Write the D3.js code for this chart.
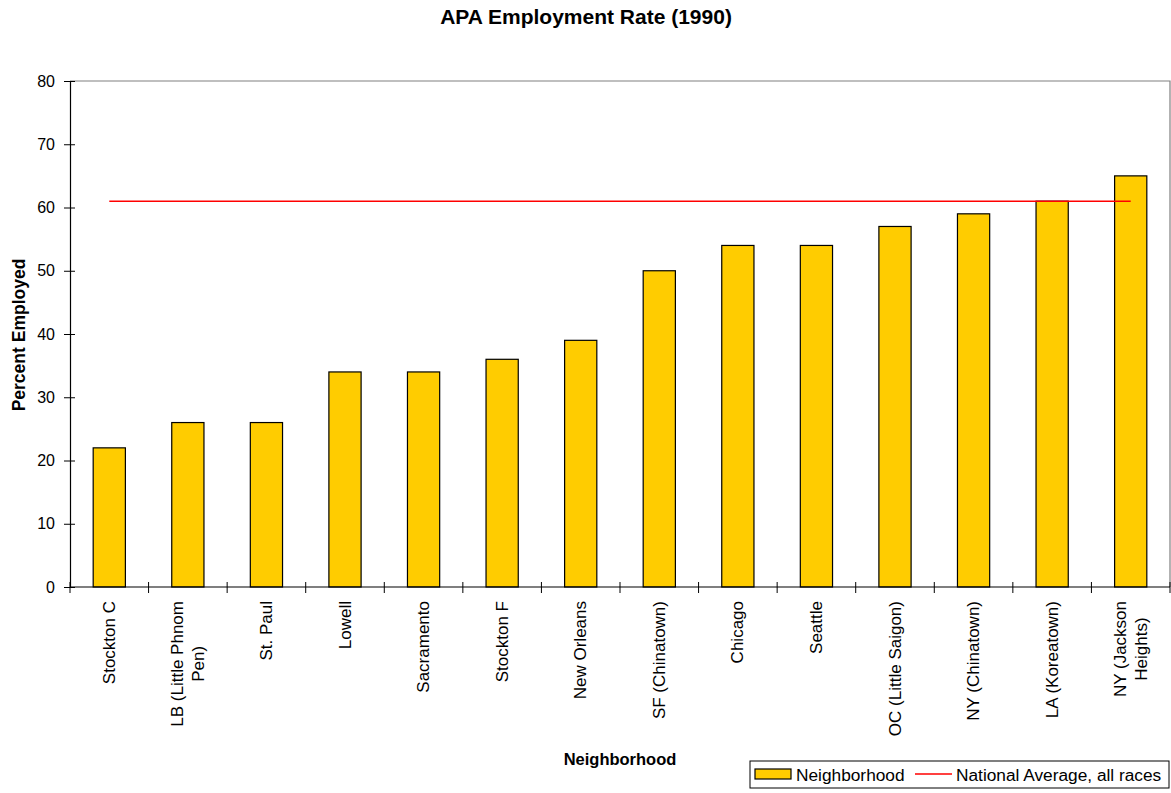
<!DOCTYPE html>
<html>
<head>
<meta charset="utf-8">
<script src="https://cdn.jsdelivr.net/npm/d3@7"></script>
<style>
  html, body { margin: 0; padding: 0; background: #fff; }
  svg { display: block; font-family: "Liberation Sans", Arial, sans-serif; }
</style>
</head>
<body>
<svg id="chart" width="1171" height="793"></svg>
<script>
// Neighborhoods, ordered by employment rate
const categories = [
  "Stockton C", "LB (Little Phnom Pen)", "St. Paul", "Lowell", "Sacramento",
  "Stockton F", "New Orleans", "SF (Chinatown)", "Chicago", "Seattle",
  "OC (Little Saigon)", "NY (Chinatown)", "LA (Koreatown)", "NY (Jackson Heights)"
];
// Percent employed per neighborhood
const employed = [22, 26, 26, 34, 34, 36, 39, 50, 54, 54, 57, 59, 61, 65];
// National average, all races (one value per neighborhood)
const nationalAverage = [61, 61, 61, 61, 61, 61, 61, 61, 61, 61, 61, 61, 61, 61];
// Y axis tick values
const yTicks = [0, 10, 20, 30, 40, 50, 60, 70, 80];

const svg = d3.select("#chart");
const plot = { left: 70, right: 1170, top: 81, bottom: 587 };

const x = d3.scaleBand().domain(categories).range([plot.left, plot.right]).padding(0);
const y = d3.scaleLinear().domain([0, 80]).range([plot.bottom, plot.top]);
const barW = x.bandwidth() * 0.41;

// Title
svg.append("text")
  .attr("x", 586).attr("y", 23.5)
  .attr("text-anchor", "middle")
  .attr("font-size", 21).attr("font-weight", "bold")
  .text("APA Employment Rate (1990)");

// Plot frame (top and right edges)
svg.append("path")
  .attr("d", `M${plot.left},${plot.top}H${plot.right}V${plot.bottom}`)
  .attr("fill", "none").attr("stroke", "#808080").attr("stroke-width", 1.2);

// Bars
svg.append("g").selectAll("rect")
  .data(categories)
  .join("rect")
  .attr("x", (d) => x(d) + (x.bandwidth() - barW) / 2)
  .attr("y", (d, i) => y(employed[i]))
  .attr("width", barW)
  .attr("height", (d, i) => y(0) - y(employed[i]))
  .attr("fill", "#FFCC00")
  .attr("stroke", "#000")
  .attr("stroke-width", 1.2);

// National average line
const avgLine = d3.line()
  .x((d, i) => x(categories[i]) + x.bandwidth() / 2)
  .y((d) => y(d));
svg.append("path")
  .datum(nationalAverage)
  .attr("d", avgLine)
  .attr("fill", "none")
  .attr("stroke", "#FF0000")
  .attr("stroke-width", 1.5);

// Y axis
const yAxis = svg.append("g")
  .attr("transform", `translate(${plot.left},0)`)
  .call(d3.axisLeft(y).tickValues(yTicks).tickSizeInner(5).tickSizeOuter(0).tickPadding(9));
yAxis.select(".domain").attr("stroke", "#000").attr("stroke-width", 1.2);
yAxis.selectAll(".tick line").attr("x2", 5).attr("x1", -6).attr("stroke", "#000");
yAxis.selectAll(".tick text")
  .attr("x", -15)
  .attr("font-size", 16).attr("font-family", "Liberation Sans, Arial, sans-serif").attr("fill", "#000");

// X axis line with tick marks on category boundaries
const xAxisG = svg.append("g");
xAxisG.append("line")
  .attr("x1", plot.left).attr("x2", plot.right)
  .attr("y1", plot.bottom).attr("y2", plot.bottom)
  .attr("stroke", "#000").attr("stroke-width", 1.2);
const boundaries = categories.map((c) => x(c)).concat([x(categories[categories.length - 1]) + x.bandwidth()]);
xAxisG.selectAll("line.tick")
  .data(boundaries)
  .join("line")
  .attr("class", "tick")
  .attr("x1", (d) => d).attr("x2", (d) => d)
  .attr("y1", plot.bottom - 5).attr("y2", plot.bottom + 6)
  .attr("stroke", "#000");

// Category labels, rotated, wrapped when long
const labelFont = 17;
const lineH = 21;
const wrapWidth = 160;
const measure = svg.append("text").attr("font-size", labelFont).attr("visibility", "hidden");
function textWidth(s) { measure.text(s); return measure.node().getComputedTextLength(); }
function wrap(label) {
  if (textWidth(label) <= wrapWidth) return [label];
  const words = label.split(" ");
  const lines = [];
  let cur = "";
  for (const w of words) {
    const next = cur ? cur + " " + w : w;
    if (cur && textWidth(next) > wrapWidth) { lines.push(cur); cur = w; }
    else cur = next;
  }
  if (cur) lines.push(cur);
  return lines;
}

categories.forEach((c) => {
  const lines = wrap(c);
  const blockW = d3.max(lines, textWidth);
  const cx = x(c) + x.bandwidth() / 2;
  const g = svg.append("g").attr("transform", `translate(${cx},601) rotate(-90)`);
  lines.forEach((ln, i) => {
    g.append("text")
      .attr("x", -blockW / 2)
      .attr("y", (i - (lines.length - 1) / 2) * lineH)
      .attr("text-anchor", "middle")
      .attr("dominant-baseline", "central")
      .attr("font-size", labelFont)
      .text(ln);
  });
});
measure.remove();

// Axis titles
svg.append("text")
  .attr("x", 620).attr("y", 765)
  .attr("text-anchor", "middle")
  .attr("font-size", 16.5).attr("font-weight", "bold")
  .text("Neighborhood");

svg.append("text")
  .attr("transform", `translate(24.5,335) rotate(-90)`)
  .attr("text-anchor", "middle")
  .attr("font-size", 17.5).attr("font-weight", "bold")
  .text("Percent Employed");

// Legend
const lg = svg.append("g");
lg.append("rect")
  .attr("x", 750).attr("y", 761).attr("width", 419).attr("height", 27)
  .attr("fill", "#fff").attr("stroke", "#000").attr("stroke-width", 1);
lg.append("rect")
  .attr("x", 755).attr("y", 769).attr("width", 36).attr("height", 10)
  .attr("fill", "#FFCC00").attr("stroke", "#000").attr("stroke-width", 1.2);
lg.append("text")
  .attr("x", 796).attr("y", 774.5)
  .attr("dominant-baseline", "central")
  .attr("font-size", 17.3)
  .text("Neighborhood");
lg.append("line")
  .attr("x1", 915).attr("x2", 952).attr("y1", 774).attr("y2", 774)
  .attr("stroke", "#FF0000").attr("stroke-width", 1.5);
lg.append("text")
  .attr("x", 956).attr("y", 774.5)
  .attr("dominant-baseline", "central")
  .attr("font-size", 17.3)
  .text("National Average, all races");
</script>
</body>
</html>
